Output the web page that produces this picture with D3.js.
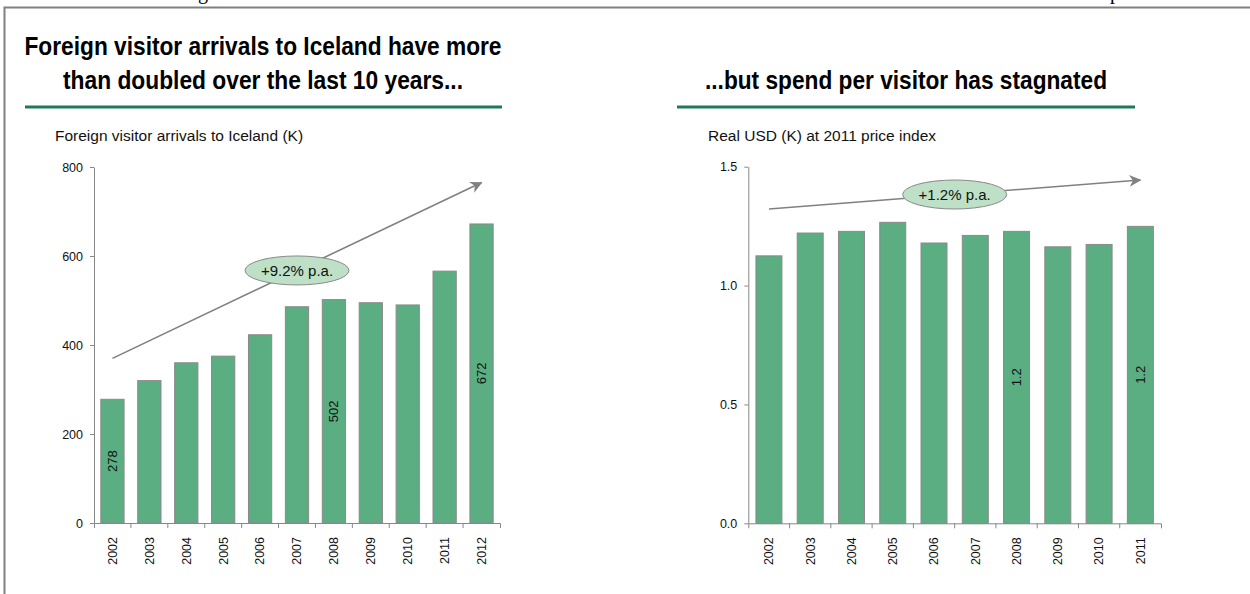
<!DOCTYPE html>
<html>
<head>
<meta charset="utf-8">
<script src="https://cdn.jsdelivr.net/npm/d3@7"></script>
<style>
  body { margin: 0; background: #fff; }
  svg { display: block; font-family: "Liberation Sans", Arial, sans-serif; }
</style>
</head>
<body>
<svg id="drawing_region"></svg>
<script>
// left panel: arrivals (K)
const yearsA = ["2002","2003","2004","2005","2006","2007","2008","2009","2010","2011","2012"];
const arrivals = [278, 320, 360, 375, 423, 486, 502, 495, 490, 566, 672];
const ticksA = [0, 200, 400, 600, 800];
const labeledA = ["2002", "2008", "2012"];
const trendA = [["2002", 370], ["2012", 765]];

// right panel: real USD (K) per visitor
const yearsB = ["2002","2003","2004","2005","2006","2007","2008","2009","2010","2011"];
const spend = [1.125, 1.221, 1.228, 1.266, 1.179, 1.211, 1.228, 1.163, 1.173, 1.249];
const ticksB = [0, 0.5, 1.0, 1.5];
const labeledB = ["2008", "2011"];
const trendB = [["2002", 1.322], ["2011", 1.444]];

const width = 1250;
const height = 594;
const barFill = "#5aae82";
const axisColor = "#888";
const ruleColor = "#21795a";

const svg = d3.select('#drawing_region')
    .attr('width', width)
    .attr('height', height);

// arrow head marker
svg.append("defs").append("marker")
    .attr("id", "arrowhead")
    .attr("viewBox", "0 0 12 12")
    .attr("refX", 11).attr("refY", 6)
    .attr("markerWidth", 12).attr("markerHeight", 12)
    .attr("markerUnits", "userSpaceOnUse")
    .attr("orient", "auto")
    .append("path")
    .attr("d", "M0,0 L12,6 L0,12 L3.5,6 Z")
    .attr("fill", "#808080");

// page frame
svg.append("path")
    .attr("d", `M4.5,${height} V7.5 H${width}`)
    .attr("fill", "none")
    .attr("stroke", "#808080")
    .attr("stroke-width", 2);

// remnants of the line above the frame (cut off in the original too)
svg.append("text").attr("x", 198).attr("y", -1)
    .attr("font-family", "Liberation Serif, serif").attr("font-size", 20).text("g");
svg.append("text").attr("x", 1110).attr("y", -1)
    .attr("font-family", "Liberation Serif, serif").attr("font-size", 20).text("p");

function drawPanel(p) {
  const g = svg.append("g");

  // heading
  p.title.forEach((t, i) => {
    g.append("text")
        .attr("x", p.titleX)
        .attr("y", p.titleY[i])
        .attr("text-anchor", "middle")
        .attr("font-size", "25.5px")
        .attr("font-weight", "bold")
        .attr("fill", "#000")
        .attr("textLength", p.titleLen[i])
        .attr("lengthAdjust", "spacingAndGlyphs")
        .text(t);
  });
  g.append("rect")
      .attr("x", p.rule[0]).attr("y", 105.5)
      .attr("width", p.rule[1] - p.rule[0]).attr("height", 3)
      .attr("fill", ruleColor);

  g.append("text")
      .attr("x", p.subX).attr("y", 141)
      .attr("font-size", "15.5px")
      .attr("fill", "#111")
      .text(p.subtitle);

  const xscale = d3.scaleBand()
      .domain(p.cats)
      .range([p.x0, p.x1])
      .paddingInner(0.37)
      .paddingOuter(0.185);

  const yscale = d3.scaleLinear()
      .domain([0, p.ticks[p.ticks.length - 1]])
      .range([p.y0, p.y1]);

  // bars
  g.selectAll("rect.bar").data(p.values).enter()
      .append("rect")
      .attr("class", "bar")
      .attr("x", (d, i) => xscale(p.cats[i]))
      .attr("y", d => yscale(d))
      .attr("width", xscale.bandwidth())
      .attr("height", d => yscale(0) - yscale(d))
      .attr("fill", barFill)
      .attr("stroke", "#8a8a8a")
      .attr("stroke-width", 1);

  // value labels inside chosen bars
  g.selectAll("text.val").data(p.labeled).enter()
      .append("text")
      .attr("class", "val")
      .attr("transform", c => {
        const v = p.values[p.cats.indexOf(c)];
        const cx = xscale(c) + xscale.bandwidth() / 2;
        const cy = (yscale(v) + yscale(0)) / 2;
        return `translate(${cx},${cy}) rotate(-90)`;
      })
      .attr("text-anchor", "middle")
      .attr("dy", "0.35em")
      .attr("font-size", "13px")
      .attr("fill", "#111")
      .text(c => p.labelFmt(p.values[p.cats.indexOf(c)]));

  // y axis
  const yaxis = d3.axisLeft(yscale)
      .tickValues(p.ticks)
      .tickFormat(p.tickFmt)
      .tickSize(4)
      .tickSizeOuter(0)
      .tickPadding(7);
  const yg = g.append("g")
      .attr("transform", `translate(${p.x0},0)`)
      .call(yaxis);
  yg.selectAll("path, line").attr("stroke", axisColor);
  yg.selectAll("text").attr("font-size", "12.5px").attr("fill", "#111")
      .attr("font-family", "Liberation Sans, Arial, sans-serif");

  // x axis with ticks between categories
  const xaxis = d3.axisBottom(xscale)
      .tickSize(0)
      .tickSizeOuter(5);
  const xg = g.append("g")
      .attr("transform", `translate(0,${p.y0})`)
      .call(xaxis);
  xg.select(".domain").attr("stroke", axisColor);
  xg.selectAll("text")
      .attr("transform", "rotate(-90)")
      .attr("x", -14)
      .attr("y", 0)
      .attr("dy", "0.35em")
      .attr("text-anchor", "end")
      .attr("font-size", "12.5px")
      .attr("fill", "#111")
      .attr("font-family", "Liberation Sans, Arial, sans-serif");
  const half = xscale.step() * xscale.paddingInner() / 2;
  xg.selectAll("line.sep").data(p.cats.slice(1)).enter()
      .append("line")
      .attr("class", "sep")
      .attr("x1", d => xscale(d) - half)
      .attr("x2", d => xscale(d) - half)
      .attr("y1", 0).attr("y2", 5)
      .attr("stroke", axisColor);

  // growth arrow + ellipse tag
  const ax = d => xscale(d[0]) + xscale.bandwidth() / 2;
  const [s, e] = p.trend;
  g.append("line")
      .attr("x1", ax(s)).attr("y1", yscale(s[1]))
      .attr("x2", ax(e)).attr("y2", yscale(e[1]))
      .attr("stroke", "#808080")
      .attr("stroke-width", 1.6)
      .attr("marker-end", "url(#arrowhead)");
  const mx = (ax(s) + ax(e)) / 2;
  const my = (yscale(s[1]) + yscale(e[1])) / 2;
  g.append("ellipse")
      .attr("cx", mx).attr("cy", my)
      .attr("rx", 52).attr("ry", 14.5)
      .attr("fill", "#bde0c6")
      .attr("stroke", "#8a8a8a")
      .attr("stroke-width", 1);
  g.append("text")
      .attr("x", mx).attr("y", my)
      .attr("dy", "0.35em")
      .attr("text-anchor", "middle")
      .attr("font-size", "15px")
      .attr("fill", "#111")
      .text(p.trendLabel);
}

drawPanel({
  title: ["Foreign visitor arrivals to Iceland have more", "than doubled over the last 10 years..."],
  titleX: 263, titleY: [55, 89], titleLen: [477, 400],
  rule: [25, 502],
  subtitle: "Foreign visitor arrivals to Iceland (K)", subX: 55,
  cats: yearsA, values: arrivals, ticks: ticksA,
  labeled: labeledA, labelFmt: d3.format("d"), tickFmt: d3.format("d"),
  trend: trendA, trendLabel: "+9.2% p.a.",
  x0: 94, x1: 500, y0: 523, y1: 167
});

drawPanel({
  title: ["...but spend per visitor has stagnated"],
  titleX: 906, titleY: [89], titleLen: [402],
  rule: [677, 1135],
  subtitle: "Real USD (K) at 2011 price index", subX: 708,
  cats: yearsB, values: spend, ticks: ticksB,
  labeled: labeledB, labelFmt: d3.format(".1f"), tickFmt: d3.format(".1f"),
  trend: trendB, trendLabel: "+1.2% p.a.",
  x0: 748.3, x1: 1161, y0: 523.3, y1: 166.7
});
</script>
</body>
</html>
